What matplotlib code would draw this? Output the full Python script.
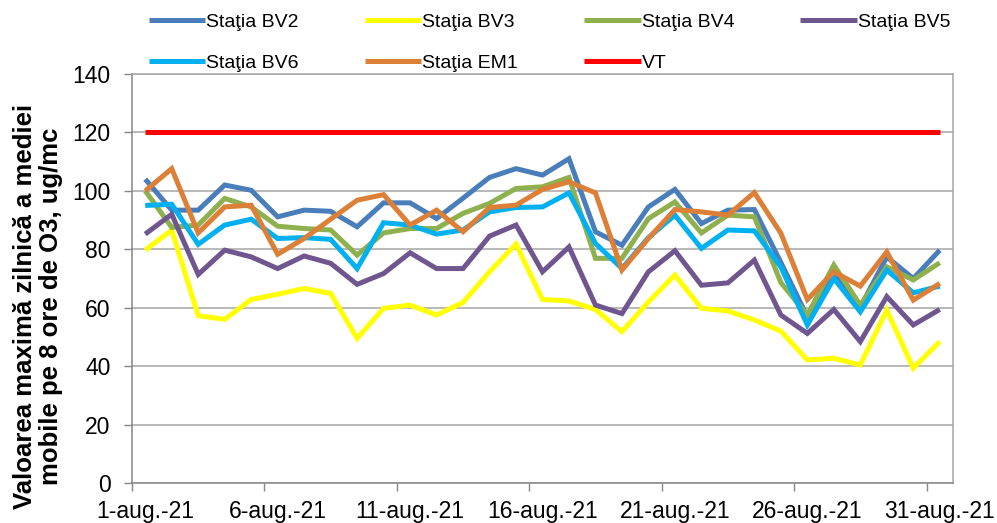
import matplotlib
matplotlib.use("Agg")
import matplotlib.pyplot as plt
from matplotlib.ticker import FixedLocator

plt.rcParams['font.family'] = ['Liberation Sans', 'DejaVu Sans']

days = list(range(1, 32))
tick_labels = ["1-aug.-21", "6-aug.-21", "11-aug.-21", "16-aug.-21",
               "21-aug.-21", "26-aug.-21", "31-aug.-21"]

bv2 = [104, 93.4, 93.4, 102, 100.2, 91.1, 93.4, 93, 87.7, 95.9, 95.9, 90.5, 97.5,
       104.6, 107.6, 105.4, 111, 86, 81.4, 94.5, 100.5, 88.8, 93.4, 93.6, 75.5,
       56.9, 71.7, 60.2, 77.4, 70, 79.7]
bv3 = [79.7, 86.6, 57.3, 56, 62.8, 64.6, 66.6, 64.9, 49.5, 59.8, 60.9, 57.5, 61.8,
       72.3, 81.8, 62.8, 62.3, 59.4, 51.8, 62, 71.2, 59.8, 58.9, 55.8, 52,
       42.1, 42.7, 40.4, 59.2, 39.3, 48.4]
bv4 = [100, 87.5, 88.3, 97.4, 94.5, 87.9, 87.1, 86.6, 78, 85.6, 87.1, 87.1, 92.3,
       95.7, 100.8, 101.4, 104.6, 76.9, 76.9, 90.5, 96.2, 85.6, 91.7, 91.1, 68.6,
       57.5, 74.6, 60.9, 74, 69.5, 75.4]
bv5 = [85.2, 92, 71.4, 79.7, 77.4, 73.4, 77.7, 75.2, 68, 71.7, 78.8, 73.4, 73.4,
       84.5, 88.3, 72.3, 80.8, 60.9, 58, 72.3, 79.5, 67.7, 68.5, 76.3, 57.5,
       51.2, 59.4, 48.4, 63.8, 54.1, 59.4]
bv6 = [95, 95.4, 81.7, 88.3, 90.3, 83.7, 84, 83.4, 73.4, 89.1, 88.3, 85.2, 86.6,
       92.8, 94.3, 94.5, 99.3, 82, 73.4, 84, 91.7, 80.3, 86.6, 86.3, 74,
       54.1, 70, 58.6, 72.9, 65.1, 67.4]
em1 = [100, 107.6, 85.6, 94.5, 95.1, 78.3, 83.7, 90.3, 96.8, 98.7, 88.3, 93.4, 86,
       94.3, 95.1, 100.5, 103.1, 99.3, 72.9, 83.7, 93.6, 92.8, 91.7, 99.4, 85.5,
       62.8, 72.3, 67.4, 79.1, 62.6, 68.3]
vt = [120] * 31

series_names = ["Staţia BV2", "Staţia BV3", "Staţia BV4", "Staţia BV5",
                "Staţia BV6", "Staţia EM1", "VT"]
series_data = [bv2, bv3, bv4, bv5, bv6, em1, vt]
series_colors = ["#4a7ebb", "#ffff00", "#8fb04e", "#6f568f", "#00b0f0",
                 "#dc7f37", "#ff0000"]

fig = plt.figure(figsize=(9.97, 5.23), dpi=100)
ax = fig.add_axes([132/997, 1-483/523, 821/997, 409/523])

x = list(range(len(days)))
handles = {}
for name, data, col in zip(series_names, series_data, series_colors):
    ln, = ax.plot(x, data, color=col, lw=3.6, solid_joinstyle='miter',
                  solid_capstyle='butt', label=name, zorder=3)
    handles[name] = ln

ax.set_xlim(-0.5, 30.5)
ax.set_ylim(0, 140)
ax.set_yticks(range(0, 141, 20))
ax.yaxis.grid(True, color="#a6a6a6", lw=1.1)
ax.set_axisbelow(True)

ax.set_xticks([0, 5, 10, 15, 20, 25, 30])
ax.set_xticklabels(tick_labels)
ax.xaxis.set_minor_locator(FixedLocator([-0.5, 4.5, 9.5, 14.5, 19.5, 24.5, 29.5]))
ax.tick_params(axis='x', which='major', length=0, pad=12, labelsize=16.5)
ax.tick_params(axis='x', which='minor', length=5.5, width=1, color="#868686")
ax.tick_params(axis='y', length=5.5, width=1, color="#868686", pad=10, labelsize=16.5)

for sp in ax.spines.values():
    sp.set_color("#a6a6a6")
    sp.set_linewidth(1.1)
ax.spines['left'].set_color("#868686")
ax.spines['bottom'].set_color("#868686")

fig.text(38/997, 1-306/523,
         "Valoarea maximă zilnică a mediei\nmobile pe 8 ore de O3, ug/mc",
         rotation=90, ha='center', va='center', multialignment='center',
         fontsize=18.5, fontweight='bold', linespacing=1.15)

order = ["Staţia BV2", "Staţia BV6", "Staţia BV3", "Staţia EM1",
         "Staţia BV4", "VT", "Staţia BV5"]
leg = fig.legend([handles[n] for n in order], order, ncol=4,
                 loc='upper left', bbox_to_anchor=(149/997, 1-13/523),
                 frameon=False, fontsize=14, handlelength=2.9,
                 handletextpad=0.05, columnspacing=3.4, labelspacing=1.22,
                 borderpad=0, borderaxespad=0)

fig.savefig("out.png", dpi=100)
